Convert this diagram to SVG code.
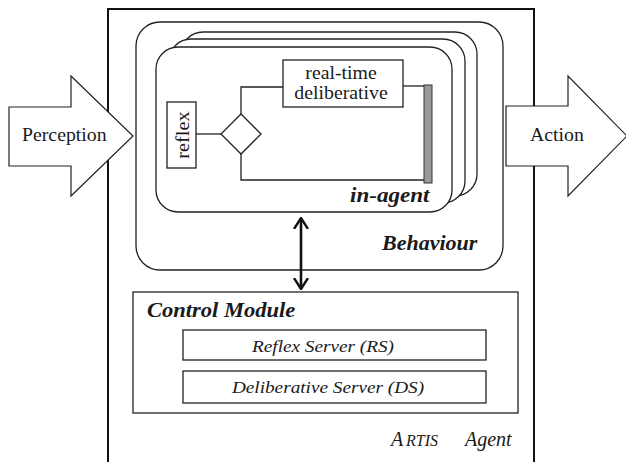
<svg xmlns="http://www.w3.org/2000/svg" width="626" height="462" viewBox="0 0 626 462">
  <style>
    .ln { fill: none; stroke: #222; stroke-width: 1.3; }
    .box { fill: #fff; stroke: #222; stroke-width: 1.3; }
    .sf { font-family: 'Liberation Serif', serif; }
  </style>
  <defs>
    <marker id="openHead" viewBox="0 0 12 16" refX="11" refY="8" markerWidth="12" markerHeight="16" markerUnits="userSpaceOnUse" orient="auto-start-reverse">
      <polyline points="0,1 11,8 0,15" fill="none" stroke="#111" stroke-width="2.4"/>
    </marker>
  </defs>
  <rect width="626" height="462" fill="#fff"/>

  <!-- agent frame (open at the bottom) -->
  <g id="agent">
    <path d="M108,470 V9 H534 V470" fill="none" stroke="#111" stroke-width="2"/>
    <text class="sf" font-style="italic" y="446" font-size="20" fill="#1a1a1a"><tspan x="391">A</tspan><tspan x="406" font-size="16">RTIS</tspan><tspan x="465">Agent</tspan></text>
  </g>

  <!-- behaviour container -->
  <g id="behaviour">
    <rect class="box" x="136" y="22" width="367" height="248" rx="24"/>
    <text class="sf" font-style="italic" font-weight="bold" transform="translate(382,250) scale(1.1,1)" font-size="20" fill="#1a1a1a">Behaviour</text>
  </g>

  <!-- stacked in-agent layers -->
  <g id="in-agent">
    <rect class="box" x="181" y="32" width="296" height="164" rx="22"/>
    <rect class="box" x="169" y="39" width="296" height="164" rx="22"/>
    <rect class="box" x="156" y="47" width="296" height="165" rx="22"/>
    <text class="sf" font-style="italic" font-weight="bold" transform="translate(350,202) scale(1.1,1)" font-size="21" fill="#1a1a1a">in-agent</text>
  </g>

  <g id="reflex">
    <rect class="box" x="167" y="102" width="29" height="66"/>
    <text class="sf" text-anchor="middle" transform="translate(189,135) rotate(-90) scale(1.1,1)" font-size="18.5" fill="#1a1a1a">reflex</text>
  </g>

  <g id="selector">
    <polygon class="box" points="241,114 261,134 241,154 221,134"/>
  </g>

  <g id="deliberative">
    <rect class="box" x="283" y="60" width="120" height="47"/>
    <text class="sf" text-anchor="middle" transform="translate(341,79) scale(1.1,1)" font-size="18" fill="#1a1a1a">real-time</text>
    <text class="sf" text-anchor="middle" transform="translate(341,99) scale(1.1,1)" font-size="18" fill="#1a1a1a">deliberative</text>
  </g>

  <g id="join-bar">
    <rect x="424" y="85" width="8" height="98" fill="#999" stroke="#333" stroke-width="1"/>
  </g>

  <g id="control-module">
    <rect class="box" x="133" y="292" width="385" height="121"/>
    <text class="sf" font-style="italic" font-weight="bold" transform="translate(147,317) scale(1.1,1)" font-size="20.5" fill="#1a1a1a">Control Module</text>
  </g>
  <g id="reflex-server">
    <rect class="box" x="183" y="330" width="303" height="30"/>
    <text class="sf" font-style="italic" text-anchor="middle" transform="translate(323,352) scale(1.1,1)" font-size="17.5" fill="#1a1a1a">Reflex Server (RS)</text>
  </g>
  <g id="deliberative-server">
    <rect class="box" x="183" y="371" width="303" height="32"/>
    <text class="sf" font-style="italic" text-anchor="middle" transform="translate(328,393) scale(1.1,1)" font-size="17.5" fill="#1a1a1a">Deliberative Server (DS)</text>
  </g>

  <!-- perception / action arrows -->
  <g id="perception">
    <polygon points="9,107 71,107 71,76 133,136 71,196 71,166 9,166" fill="#fff" stroke="#222" stroke-width="1.2"/>
    <text class="sf" transform="translate(22,141) scale(1.1,1)" font-size="18" fill="#1a1a1a">Perception</text>
  </g>
  <g id="action">
    <polygon points="506,106 568,106 568,76 627,136 568,196 568,166 506,166" fill="#fff" stroke="#222" stroke-width="1.2"/>
    <text class="sf" transform="translate(530,141) scale(1.1,1)" font-size="18" fill="#1a1a1a">Action</text>
  </g>

  <!-- connectors -->
  <g id="connectors">
    <line class="ln" x1="196" y1="134" x2="221" y2="134"/>
    <polyline class="ln" points="241,114 241,87 283,87"/>
    <line class="ln" x1="403" y1="86" x2="424" y2="86"/>
    <polyline class="ln" points="241,154 241,180 424,180"/>
    <line x1="301" y1="218" x2="301" y2="289" stroke="#111" stroke-width="2.6" marker-start="url(#openHead)" marker-end="url(#openHead)"/>
  </g>
</svg>
